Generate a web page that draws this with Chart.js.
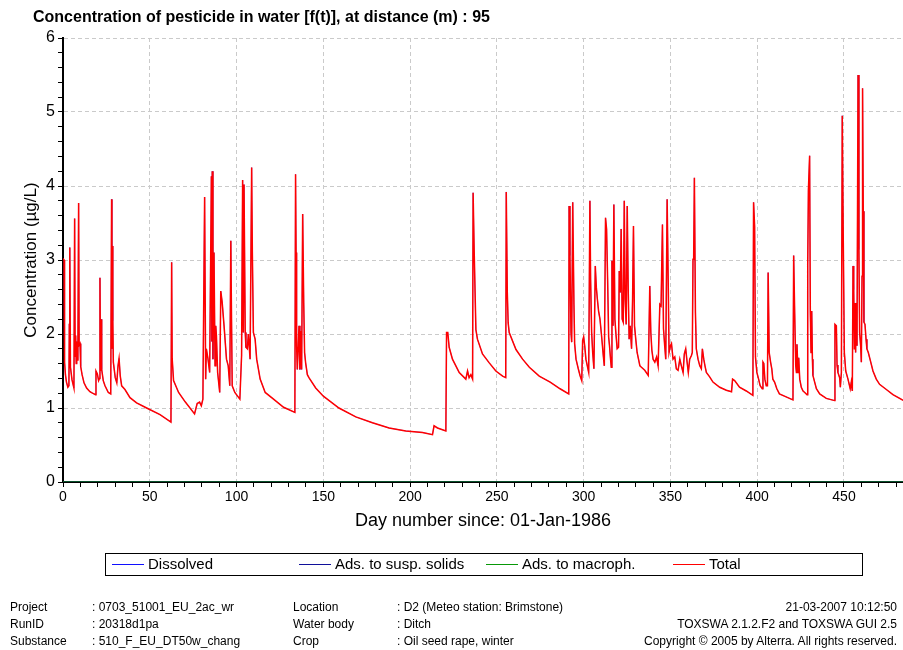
<!DOCTYPE html>
<html>
<head>
<meta charset="utf-8">
<script src="https://cdn.jsdelivr.net/npm/chart.js@4.4.1/dist/chart.umd.min.js"></script>
<style>
  html, body { margin: 0; padding: 0; background: #fff; }
  #wrap { position: relative; width: 903px; height: 650px; overflow: hidden;
          font-family: "Liberation Sans", Arial, sans-serif; color: #000; }
  #c { position: absolute; left: 0; top: 0; }
  #title { position: absolute; left: 33px; top: 8px; font-weight: bold; font-size: 16px; white-space: nowrap; }
  .ft { position: absolute; font-size: 12px; white-space: nowrap; line-height: 17px; }
</style>
</head>
<body>
<div id="wrap">
  <canvas id="c" width="903" height="650"></canvas>
  <div id="title">Concentration of pesticide in water [f(t)], at distance (m) : 95</div>
  <div class="ft" style="left:10px;top:599px;">Project<br>RunID<br>Substance</div>
  <div class="ft" style="left:92px;top:599px;">: 0703_51001_EU_2ac_wr<br>: 20318d1pa<br>: 510_F_EU_DT50w_chang</div>
  <div class="ft" style="left:293px;top:599px;">Location<br>Water body<br>Crop</div>
  <div class="ft" style="left:397px;top:599px;">: D2 (Meteo station: Brimstone)<br>: Ditch<br>: Oil seed rape, winter</div>
  <div class="ft" style="right:6px;top:599px;text-align:right;">21-03-2007 10:12:50<br>TOXSWA 2.1.2.F2 and TOXSWA GUI 2.5<br>Copyright © 2005 by Alterra. All rights reserved.</div>
</div>
<script>
// Total concentration (µg/L) against day number since 01-Jan-1986
const totalDays = [
  0, 0.6, 0.9, 1.4, 2.0, 2.8, 3.4, 3.65, 3.8, 4.03, 4.3, 5.2, 6.3, 6.7, 7.0, 7.3, 7.6, 7.9, 8.3, 8.6,
  9.0, 9.3, 9.8, 10.2, 11.0, 12.1, 13.6, 15.5, 17.0, 18.8, 19.0, 19.8, 20.5, 21.0, 21.3, 21.6, 22.0, 22.3, 23.2, 24.2,
  26.1, 27.5, 28.0, 28.2, 28.4, 28.7, 29.0, 30.1, 31.0, 31.7, 32.3, 33.0, 33.8, 35.7, 38.6, 42.4, 48.2, 55.9, 62.2,
  62.6, 62.9, 63.7, 66.6, 70.5, 75.8, 77.3, 78.7, 79.7, 80.6, 81.6, 82.2, 82.6, 83.5, 84.5, 85.5, 85.8, 86.0, 86.4, 87.0,
  87.6, 88.0, 88.4, 89.1, 90.3, 90.9, 91.7, 92.8, 94.2, 95.2, 96.1, 96.7, 97.1, 97.5, 99.0, 101.9, 102.9, 103.5, 103.9, 104.3,
  105.0, 105.4, 106.2, 106.8, 107.8, 108.7, 109.1, 109.7, 110.7, 111.6, 113.6, 116.5, 121.3, 127.1, 133.6,
  134.0, 134.3, 134.6, 135.0, 136.0, 136.5, 137.1, 137.5, 138.1, 138.7, 139.2, 139.8, 140.8, 141.7, 145.6, 150.0, 159.0, 168.7, 178.3, 187.9,
  197.5, 207.1, 212.9, 213.8, 215.8, 220.6, 221.0, 221.7, 222.5, 224.4, 228.3, 232.1, 233.1, 234.0, 235.0, 236.0, 236.3, 236.9, 237.9, 238.8,
  241.7, 245.6, 249.4, 253.3, 255.1, 255.4, 256.0, 256.5, 257.1, 261.0, 264.8, 268.7, 274.4, 280.7, 286.4, 291.4,
  291.6, 292.1, 292.7, 293.1, 293.7, 294.4, 294.8, 295.6, 296.9, 297.9, 298.9, 299.4, 300.0, 300.6, 301.3, 302.1, 302.9, 303.6, 304.0, 304.6,
  305.2, 305.9, 306.7, 307.3, 307.9, 308.6, 309.4, 310.3, 311.3, 311.9, 312.6, 313.2, 313.8, 314.4, 314.9, 315.5, 315.9, 316.3, 316.9, 317.4,
  318.0, 318.6, 319.3, 320.1, 320.5, 321.1, 321.6, 322.2, 322.8, 323.4, 323.9, 324.5, 325.1, 325.7, 326.2, 326.8, 327.6, 328.2, 328.7, 329.3,
  330.1, 330.8, 331.6, 332.4, 333.3, 335.2, 337.2, 338.1, 338.7, 339.3, 340.0, 341.0, 342.0, 342.9, 343.9, 344.6, 345.4, 346.0, 346.7, 347.3,
  348.1, 348.7, 349.2, 350.0, 350.6, 351.5, 352.5, 353.4, 354.4, 355.4, 356.3, 357.3, 358.0, 358.8, 359.6, 360.3, 361.1, 362.1, 362.6, 363.0,
  363.4, 363.8, 364.4, 364.9, 365.9, 366.9, 367.8, 368.4, 369.2, 369.9, 370.7, 372.6, 374.5, 378.4, 382.2, 385.2, 385.8, 387.0, 389.8, 393.7,
  397.5, 397.9, 398.5, 399.0, 399.8, 400.8, 401.7, 402.9, 403.3, 403.8, 404.4, 405.2, 405.9, 406.3, 406.9, 407.7, 408.4, 409.0, 410.0, 411.3,
  412.8, 415.7, 418.6, 420.6, 421.0, 421.6, 422.2, 422.6, 422.9, 423.5, 423.9, 424.5, 425.4, 426.4, 427.4, 428.7, 429.1, 429.5, 430.2, 430.6,
  431.0, 431.4, 431.8, 432.1, 433.1, 434.1, 436.0, 439.8, 444.6, 444.8, 445.6, 446.0, 446.5, 447.5, 447.9, 448.5, 449.0, 449.6, 450.2, 451.0,
  452.3, 453.6, 454.2, 454.8, 455.2, 455.6, 456.0, 456.3, 456.7, 457.1, 457.5, 458.1, 458.6, 459.0, 459.6, 460.0, 460.4, 460.7, 461.1, 461.5,
  462.1, 462.7, 463.2, 464.0, 465.2, 466.7, 468.6, 470.5, 474.4, 478.2, 483.6, 484.0
];
const totalValues = [
  3.02, 3.0, 1.62, 1.45, 1.35, 1.28, 1.3, 2.14, 1.6, 3.17, 1.55, 1.38, 1.27, 3.56, 1.7, 1.98, 1.6, 1.9, 1.65, 1.85,
  3.77, 1.85, 1.87, 1.56, 1.45, 1.34, 1.27, 1.22, 1.2, 1.18, 1.5, 1.46, 1.37, 1.4, 2.76, 1.5, 2.2, 1.52, 1.37, 1.3,
  1.21, 1.19, 3.82, 1.8, 3.19, 2.18, 1.62, 1.41, 1.34, 1.57, 1.67, 1.43, 1.3, 1.25, 1.14, 1.07, 1.0, 0.91, 0.81,
  2.97, 1.67, 1.37, 1.21, 1.08, 0.92, 1.06, 1.08, 1.03, 1.12, 3.85, 1.39, 1.8, 1.67, 1.48, 4.13, 1.9, 4.2, 1.66, 3.1,
  1.57, 2.11, 1.98, 1.48, 1.21, 2.58, 2.43, 2.11, 1.66, 1.57, 1.3, 3.26, 2.2, 1.3, 1.21, 1.12, 1.71, 4.08, 2.02, 4.02,
  2.02, 1.82, 1.8, 2.0, 1.66, 4.25, 3.1, 2.02, 1.93, 1.66, 1.39, 1.21, 1.12, 1.01, 0.94,
  4.16, 3.1, 1.84, 1.52, 2.11, 1.52, 2.04, 1.52, 3.62, 2.42, 1.75, 1.61, 1.45, 1.41, 1.27, 1.16, 1.0, 0.88, 0.8, 0.73,
  0.69, 0.67, 0.64, 0.76, 0.73, 0.69, 2.02, 2.02, 1.82, 1.66, 1.48, 1.39, 1.5, 1.41, 1.45, 1.39, 3.91, 3.14, 2.06, 1.93,
  1.73, 1.61, 1.5, 1.43, 1.41, 3.92, 2.56, 2.15, 2.02, 1.79, 1.66, 1.55, 1.43, 1.35, 1.26, 1.19,
  3.73, 3.06, 2.02, 1.89, 3.78, 2.4, 1.87, 1.66, 1.53, 1.44, 1.37, 1.91, 1.96, 1.84, 1.66, 1.57, 1.48, 3.8, 2.74, 2.02,
  1.75, 1.53, 2.92, 2.63, 2.47, 2.31, 2.2, 1.98, 1.71, 1.57, 3.57, 3.42, 2.74, 1.96, 1.84, 1.66, 1.55, 2.99, 2.11, 3.75,
  2.2, 2.0, 1.8, 1.82, 2.85, 2.56, 3.42, 2.2, 2.16, 3.8, 2.47, 2.13, 3.73, 2.56, 1.93, 2.11, 1.8, 2.49, 3.46, 2.11,
  1.91, 1.75, 1.66, 1.57, 1.55, 1.51, 1.44, 2.65, 2.02, 1.78, 1.66, 1.62, 1.69, 1.57, 2.4, 2.38, 3.48, 2.07, 1.84, 1.66,
  3.82, 2.74, 1.75, 1.84, 1.87, 1.66, 1.69, 1.53, 1.51, 1.66, 1.57, 1.48, 1.73, 1.8, 1.62, 1.48, 1.66, 1.71, 1.75, 3.01,
  3.06, 4.11, 2.29, 1.8, 1.66, 1.57, 1.53, 1.8, 1.66, 1.57, 1.48, 1.42, 1.35, 1.28, 1.24, 1.22, 1.39, 1.37, 1.28, 1.23,
  1.17, 3.78, 3.46, 1.69, 1.48, 1.39, 1.3, 1.26, 1.62, 1.6, 1.39, 1.3, 1.3, 2.83, 1.75, 1.62, 1.53, 1.39, 1.35, 1.26,
  1.19, 1.16, 1.13, 1.11, 3.06, 2.27, 1.57, 1.48, 1.86, 1.48, 1.68, 1.39, 1.28, 1.23, 1.21, 1.18, 2.94, 3.95, 4.41, 2.29,
  1.75, 2.31, 1.66, 1.44, 1.35, 1.26, 1.19, 1.13, 1.1, 2.13, 2.11, 1.58, 1.48, 1.41, 1.28, 1.48, 4.95, 3.23, 1.75, 1.5,
  1.39, 1.26, 1.35, 1.23, 2.92, 2.6, 1.8, 2.42, 1.75, 2.42, 1.84, 5.5, 3.14, 2.02, 1.84, 1.62, 2.78, 5.32, 3.66, 2.16,
  2.13, 1.93, 1.8, 1.75, 1.64, 1.5, 1.39, 1.32, 1.25, 1.18, 1.11, 1.1
];
// Dissolved fraction coincides with the total throughout
const dissolvedValues = totalValues;
// Adsorbed fractions stay at zero on this scale
const adsDays = [0, 484];
const adsSuspValues = [0, 0];
const adsMacroValues = [0, 0];

const seriesLabels = ['Dissolved', 'Ads. to susp. solids', 'Ads. to macroph.', 'Total'];
const seriesColors = ['#1010ff', '#10109a', '#089808', '#ff0000'];

const xTitle = 'Day number since: 01-Jan-1986';
const yTitle = 'Concentration (\u00b5g/L)';

const FONT = '"Liberation Sans", Arial, sans-serif';

function toPoints(days, vals) {
  return days.map((d, i) => ({ x: d, y: vals[i] }));
}
const isWhole = v => Math.abs(v - Math.round(v)) < 1e-6;

// Boxed legend below the plot, items laid out in equal columns
const boxedLegend = {
  id: 'boxedLegend',
  afterDraw(chart) {
    const ctx = chart.ctx;
    ctx.save();
    ctx.strokeStyle = '#000';
    ctx.lineWidth = 1;
    ctx.strokeRect(105.5, 553.5, 757, 22);
    ctx.font = '15px ' + FONT;
    ctx.textBaseline = 'middle';
    ctx.fillStyle = '#000';
    const y = 564.5;
    chart.data.datasets.forEach((ds, i) => {
      const x0 = 112 + i * 187;
      ctx.strokeStyle = ds.borderColor;
      ctx.lineWidth = 1;
      ctx.beginPath();
      ctx.moveTo(x0, y);
      ctx.lineTo(x0 + 32, y);
      ctx.stroke();
      ctx.fillText(ds.label, x0 + 36, y);
    });
    ctx.restore();
  }
};

new Chart(document.getElementById('c'), {
  type: 'line',
  data: {
    datasets: [
      { label: seriesLabels[0], data: toPoints(totalDays, dissolvedValues), borderColor: seriesColors[0], borderWidth: 0.5, order: 3 },
      { label: seriesLabels[1], data: toPoints(adsDays, adsSuspValues), borderColor: seriesColors[1], order: 2 },
      { label: seriesLabels[2], data: toPoints(adsDays, adsMacroValues), borderColor: seriesColors[2], order: 1 },
      { label: seriesLabels[3], data: toPoints(totalDays, totalValues), borderColor: seriesColors[3], borderWidth: 1.5, order: 0 }
    ]
  },
  options: {
    responsive: false,
    animation: false,
    devicePixelRatio: 1,
    layout: { padding: { left: 0, top: 38, right: 0, bottom: 118 } },
    elements: {
      point: { radius: 0, hoverRadius: 0 },
      line: { borderWidth: 1, tension: 0, fill: false }
    },
    plugins: {
      legend: { display: false },
      tooltip: { enabled: false },
      title: { display: false }
    },
    scales: {
      x: {
        type: 'linear',
        min: 0,
        max: 484,
        afterFit(scale) { scale.height = 50; },
        ticks: {
          stepSize: 10,
          includeBounds: false,
          autoSkip: false,
          maxRotation: 0,
          padding: 2,
          color: '#000',
          font: { family: FONT, size: 14 },
          callback: v => (v % 50 === 0 ? String(v) : '')
        },
        grid: {
          color: c => (c.tick && c.tick.value % 50 === 0 ? '#cacaca' : 'rgba(0,0,0,0)'),
          lineWidth: 1,
          tickColor: '#000',
          tickLength: 5
        },
        border: { display: true, color: '#000', width: 2, dash: [4, 3] },
        title: {
          display: true,
          text: xTitle,
          color: '#000',
          font: { family: FONT, size: 18 },
          padding: { top: 0, bottom: 0 }
        }
      },
      y: {
        min: 0,
        max: 6,
        afterFit(scale) { scale.width = 63; },
        ticks: {
          stepSize: 0.2,
          autoSkip: false,
          padding: 3,
          color: '#000',
          font: { family: FONT, size: 16 },
          callback: v => (isWhole(v) ? String(Math.round(v)) : '')
        },
        grid: {
          color: c => (c.tick && isWhole(c.tick.value) ? '#cacaca' : 'rgba(0,0,0,0)'),
          lineWidth: 1,
          tickColor: '#000',
          tickLength: 5
        },
        border: { display: true, color: '#000', width: 2, dash: [4, 3] },
        title: {
          display: true,
          text: yTitle,
          color: '#000',
          font: { family: FONT, size: 17 },
          padding: { top: 21, bottom: 0 }
        }
      }
    }
  },
  plugins: [boxedLegend]
});
</script>
</body>
</html>
